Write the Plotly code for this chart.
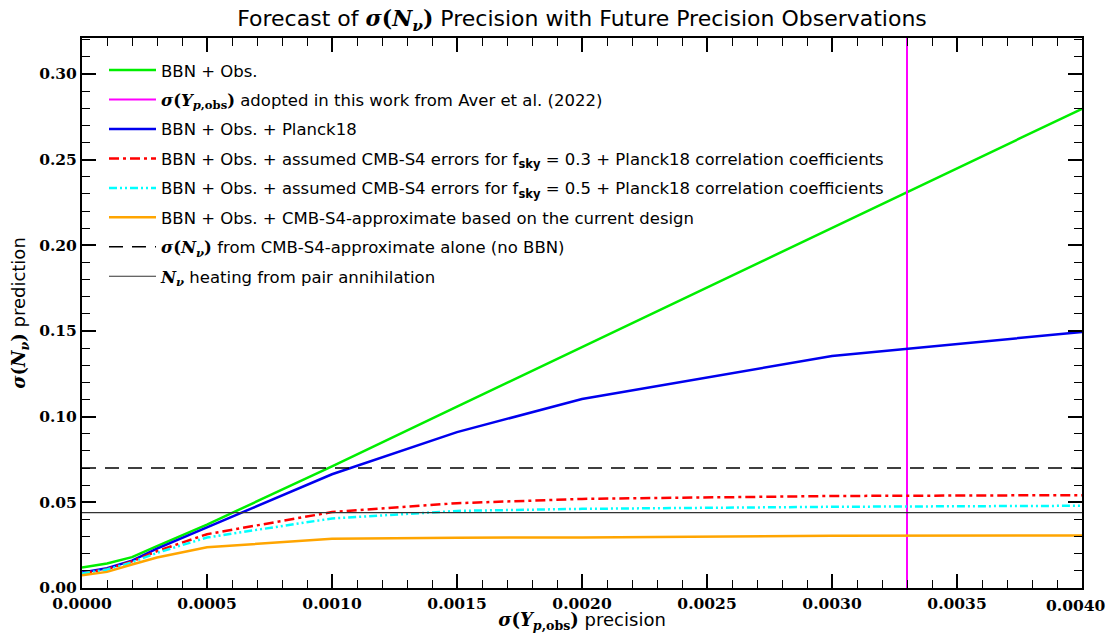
import plotly.graph_objects as go

# sigma(Y_p,obs) precision grid
sigma_yp = [0.0, 0.0001, 0.0002, 0.0003, 0.0005, 0.0010, 0.0015, 0.0020, 0.0030, 0.0040]

# sigma(N_nu) predictions
bbn_obs = [0.0119, 0.0143, 0.0180, 0.0245, 0.0370, 0.0710, 0.1058, 0.1405, 0.2100, 0.2797]
bbn_planck = [0.0090, 0.0115, 0.0160, 0.0230, 0.0354, 0.0664, 0.0910, 0.1103, 0.1354, 0.1494]
bbn_s4_03 = [0.0085, 0.0110, 0.0155, 0.0215, 0.0314, 0.0443, 0.0495, 0.0520, 0.0537, 0.0542]
bbn_s4_05 = [0.0085, 0.0108, 0.0150, 0.0205, 0.0295, 0.0406, 0.0450, 0.0462, 0.0474, 0.0480]
bbn_s4_approx = [0.0074, 0.0094, 0.0137, 0.0178, 0.0238, 0.0287, 0.0294, 0.0295, 0.0305, 0.0307]

# reference values
sigma_yp_adopted = 0.0033
cmb_s4_alone = 0.070
nnu_pair_heating = 0.044

# x tick marks and labels
x_ticks = [0.0, 0.0005, 0.0010, 0.0015, 0.0020, 0.0025, 0.0030, 0.0035, 0.0040]
x_tick_labels = ["0.0000", "0.0005", "0.0010", "0.0015", "0.0020",
                 "0.0025", "0.0030", "0.0035", "0.0040"]

x_range = [0.0, 0.0040]
y_range = [0.0, 0.321]

sans = "'DejaVu Sans', sans-serif"
serif = "'DejaVu Serif', serif"
tick_font = dict(family=serif, size=15.5, color="black", weight="bold")


def m(s):
    # math-style span (bold italic serif)
    return f"<span style='font-family:DejaVu Serif'><b>{s}</b></span>"


sig_nnu = m("<i>σ</i>(<i>N<sub>ν</sub></i>)")
sig_yp = m("<i>σ</i>(<i>Y</i><sub><i>p</i>,obs</sub>)")

fig = go.Figure()

traces = [
    (sigma_yp, bbn_obs, "BBN + Obs.", dict(color="#00ee00", width=2.5)),
    ([sigma_yp_adopted, sigma_yp_adopted], y_range,
     f"{sig_yp} adopted in this work from Aver et al. (2022)", dict(color="#ff00ff", width=2)),
    (sigma_yp, bbn_planck, "BBN + Obs. + Planck18", dict(color="#0000ee", width=2.5)),
    (sigma_yp, bbn_s4_03,
     "BBN + Obs. + assumed CMB-S4 errors for f<sub><b>sky</b></sub> = 0.3 + Planck18 correlation coefficients",
     dict(color="#ff0000", width=2.5, dash="10px,4px,3px,4px")),
    (sigma_yp, bbn_s4_05,
     "BBN + Obs. + assumed CMB-S4 errors for f<sub><b>sky</b></sub> = 0.5 + Planck18 correlation coefficients",
     dict(color="#00ffff", width=2.5, dash="8px,3px,2px,3px,2px,3px")),
    (sigma_yp, bbn_s4_approx, "BBN + Obs. + CMB-S4-approximate based on the current design",
     dict(color="#ffa500", width=2.5)),
    (x_range, [cmb_s4_alone, cmb_s4_alone],
     f"{sig_nnu} from CMB-S4-approximate alone (no BBN)",
     dict(color="black", width=1.5, dash="14px,9px")),
    (x_range, [nnu_pair_heating, nnu_pair_heating],
     f"{m('<i>N<sub>ν</sub></i>')} heating from pair annihilation",
     dict(color="#333333", width=1.2)),
]

for i, (xs, ys, name, line) in enumerate(traces):
    fig.add_trace(go.Scatter(x=xs, y=ys, mode="lines", name=name, line=line,
                             legendgroup=f"g{i}"))

axis_common = dict(
    showline=True, linecolor="black", linewidth=2, mirror="allticks",
    ticks="inside", ticklen=14, tickwidth=1.5, tickcolor="black",
    showgrid=False, zeroline=False, automargin=False,
    tickfont=tick_font,
)

# last x label would be clipped at the page edge, so it is drawn as an annotation
fig.update_xaxes(range=x_range, tickmode="array", tickvals=x_ticks,
                 ticktext=x_tick_labels[:-1] + [""],
                 minor=dict(ticks="inside", dtick=0.0001, ticklen=8, tickwidth=1, tickcolor="black"),
                 title=dict(text=f"{sig_yp} precision",
                            font=dict(family=sans, size=18, color="black"), standoff=8),
                 **axis_common)
fig.update_yaxes(range=y_range, dtick=0.05, tickformat=".2f",
                 minor=dict(ticks="inside", dtick=0.01, ticklen=8, tickwidth=1, tickcolor="black"),
                 title=dict(text=f"{sig_nnu} prediction",
                            font=dict(family=sans, size=18, color="black"), standoff=10),
                 **axis_common)

fig.add_annotation(x=x_ticks[-1], y=0, xref="x", yref="y", text=x_tick_labels[-1],
                   showarrow=False, xanchor="center", yanchor="top", xshift=-6, yshift=-6,
                   font=tick_font)

# page is offset by the 8px body margin, so the figure is sized to fit the window
fig.update_layout(
    width=1099, height=625,
    margin=dict(l=74, r=25, t=30, b=45),
    paper_bgcolor="white", plot_bgcolor="white",
    title=dict(text=f"Forecast of {sig_nnu} Precision with Future Precision Observations",
               xref="paper", x=0.5, xanchor="center", y=0.9836, yanchor="middle",
               font=dict(family=sans, size=22, color="black")),
    legend=dict(x=0.022, y=0.973, xanchor="left", yanchor="top",
                bgcolor="rgba(0,0,0,0)", borderwidth=0,
                font=dict(family=sans, size=16.5, color="black"),
                tracegroupgap=5, itemwidth=47),
    showlegend=True,
)

fig.write_html("out.html")
